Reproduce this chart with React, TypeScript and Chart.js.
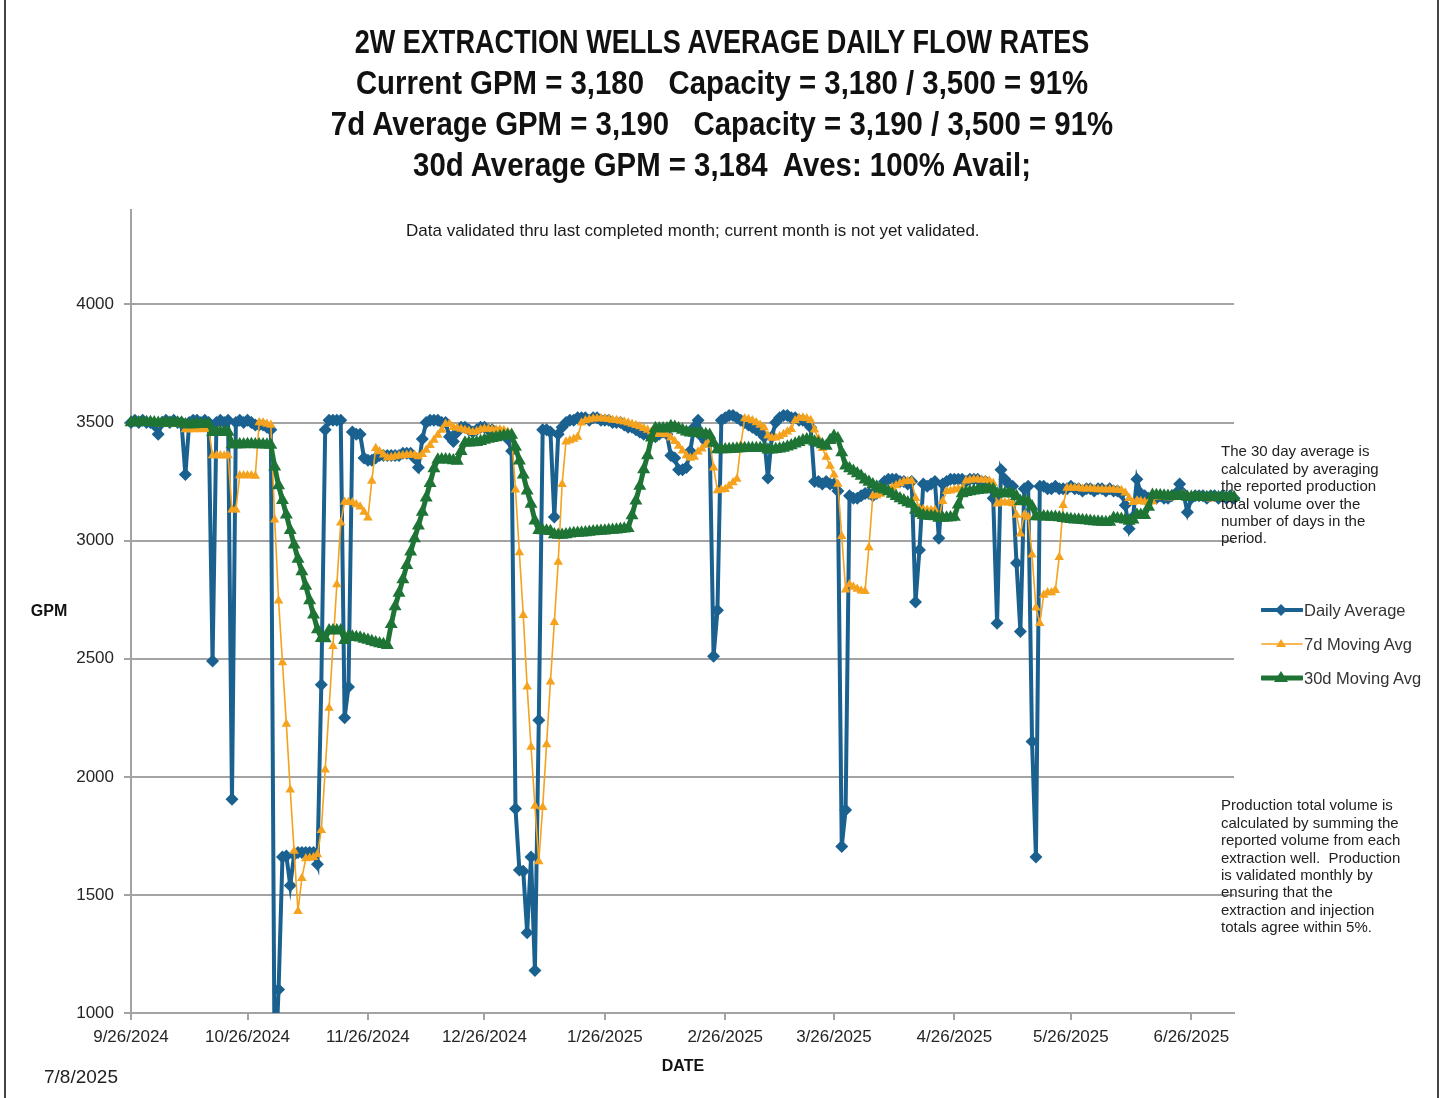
import React, { useEffect, useRef } from 'react';
import { Chart, registerables } from 'chart.js';

Chart.register(...registerables);

// ---------- data ----------
const START_DATE = '9/26/2024';
const END_DATE = '7/7/2025';
const X_TICK_LABELS = [
  '9/26/2024', '10/26/2024', '11/26/2024', '12/26/2024', '1/26/2025',
  '2/26/2025', '3/26/2025', '4/26/2025', '5/26/2025', '6/26/2025',
];
const Y_TICKS = [1000, 1500, 2000, 2500, 3000, 3500, 4000];
const Y_MIN = 1000;
const Y_MAX = 4400;

const DAILY_AVERAGE = [
  3500, 3510, 3500, 3510, 3500, 3500, 3490, 3450, 3500, 3510,
  3500, 3510, 3500, 3500, 3280, 3500, 3510, 3510, 3500, 3510,
  3500, 2490, 3500, 3510, 3500, 3510, 1905, 3500, 3510, 3500,
  3510, 3500, 3490, 3490, 3490, 3480, 3470, 700, 1100, 1660,
  1665, 1540, 1670, 1680, 1680, 1680, 1680, 1680, 1630, 2390,
  3470, 3510, 3510, 3510, 3510, 2250, 2380, 3460, 3450, 3450,
  3350, 3340, 3340, 3350, 3360, 3360, 3360, 3360, 3360, 3360,
  3370, 3370, 3370, 3350, 3310, 3430, 3500, 3510, 3510, 3510,
  3500, 3500, 3440, 3420, 3460, 3480, 3480, 3470, 3460, 3470,
  3480, 3480, 3470, 3470, 3460, 3460, 3450, 3430, 3380, 1865,
  1605, 1600, 1340, 1660, 1180, 2240, 3470, 3470, 3460, 3100,
  3450, 3480, 3500, 3510, 3510, 3520, 3520, 3520, 3510, 3520,
  3520, 3510, 3510, 3510, 3500, 3500, 3500, 3490, 3480, 3480,
  3470, 3460, 3450, 3450, 3440, 3440, 3450, 3460, 3450, 3360,
  3350, 3300, 3300, 3310, 3380, 3480, 3510, 3440, 3420, 3420,
  2510, 2705, 3510, 3520, 3530, 3530, 3520, 3510, 3500, 3490,
  3480, 3470, 3460, 3440, 3265, 3440, 3500, 3520, 3530, 3530,
  3520, 3520, 3510, 3510, 3500, 3480, 3250, 3250, 3240, 3250,
  3240, 3240, 3210, 1705, 1860, 3190, 3180, 3180, 3190, 3200,
  3200, 3190, 3200, 3220, 3250, 3260, 3260, 3260, 3250, 3250,
  3240, 3250, 2740, 2960, 3240, 3230, 3240, 3250, 3010, 3240,
  3250, 3260, 3260, 3260, 3260, 3250, 3260, 3260, 3260, 3250,
  3250, 3240, 3180, 2650, 3300, 3260, 3240, 3230, 2905, 2615,
  3220, 3230, 2150, 1660, 3230, 3230, 3220, 3220, 3230, 3220,
  3220, 3220, 3230, 3220, 3220, 3210, 3220, 3220, 3210, 3220,
  3220, 3210, 3220, 3210, 3210, 3200, 3150, 3050, 3100, 3260,
  3200, 3190, 3180, 3180, 3180, 3190, 3180, 3180, 3190, 3200,
  3240, 3200, 3120, 3180, 3190, 3190, 3190, 3180, 3190, 3190,
  3180, 3190, 3180, 3190, 3180,
];

const MOVING_AVG_7D = [
  3500, 3501, 3501, 3503, 3503, 3503, 3501, 3494, 3493, 3494,
  3493, 3494, 3494, 3496, 3471, 3471, 3471, 3473, 3471, 3473,
  3473, 3360, 3360, 3360, 3359, 3360, 3131, 3131, 3276, 3276,
  3276, 3276, 3274, 3500, 3499, 3494, 3490, 3089, 2746, 2484,
  2224, 1945, 1686, 1431, 1571, 1654, 1656, 1659, 1671, 1774,
  2030, 2291, 2553, 2814, 3076, 3164, 3163, 3161, 3153, 3144,
  3121, 3097, 3253, 3391, 3377, 3364, 3351, 3353, 3356, 3359,
  3361, 3363, 3364, 3363, 3356, 3366, 3384, 3404, 3426, 3447,
  3469, 3494, 3494, 3480, 3477, 3473, 3469, 3464, 3459, 3463,
  3471, 3474, 3473, 3471, 3470, 3470, 3467, 3460, 3446, 3216,
  2950, 2684, 2381, 2126, 1876, 1641, 1871, 2137, 2403, 2654,
  2910, 3239, 3419, 3424, 3430, 3439, 3499, 3509, 3513, 3516,
  3517, 3517, 3516, 3514, 3511, 3510, 3507, 3503, 3499, 3494,
  3489, 3483, 3476, 3469, 3461, 3456, 3451, 3450, 3449, 3436,
  3421, 3401, 3381, 3361, 3350, 3354, 3376, 3389, 3406, 3423,
  3309, 3212, 3216, 3218, 3231, 3246, 3261, 3404, 3517, 3514,
  3509, 3500, 3490, 3479, 3444, 3435, 3436, 3442, 3451, 3461,
  3472, 3509, 3519, 3520, 3517, 3510, 3470, 3431, 3391, 3354,
  3316, 3279, 3240, 3019, 2792, 2814, 2804, 2795, 2788, 2786,
  2971, 3190, 3191, 3197, 3207, 3217, 3226, 3234, 3243, 3250,
  3253, 3253, 3179, 3136, 3133, 3130, 3129, 3130, 3096, 3167,
  3209, 3211, 3216, 3219, 3220, 3254, 3257, 3259, 3259, 3257,
  3256, 3254, 3243, 3156, 3161, 3161, 3160, 3157, 3109, 3029,
  3110, 3100, 2940, 2716, 2650, 2770, 2780, 2780, 2790, 2930,
  3150, 3223, 3223, 3223, 3223, 3220, 3220, 3220, 3219, 3217,
  3217, 3216, 3217, 3216, 3214, 3213, 3203, 3179, 3163, 3169,
  3167, 3164, 3161, 3166, 3184, 3197, 3186, 3183, 3183, 3186,
  3194, 3197, 3187, 3187, 3189, 3189, 3187, 3179, 3177, 3187,
  3187, 3187, 3186, 3186, 3190,
];

const MOVING_AVG_30D = [
  3500, 3500, 3500, 3501, 3501, 3501, 3500, 3498, 3498, 3499,
  3499, 3499, 3499, 3499, 3492, 3492, 3492, 3493, 3493, 3493,
  3493, 3459, 3459, 3460, 3460, 3460, 3407, 3407, 3407, 3407,
  3408, 3408, 3407, 3407, 3407, 3406, 3405, 3313, 3233, 3171,
  3110, 3044, 2983, 2922, 2869, 2808, 2747, 2686, 2624, 2587,
  2586, 2620, 2620, 2620, 2620, 2578, 2594, 2593, 2591, 2589,
  2584, 2579, 2574, 2569, 2565, 2561, 2557, 2646, 2721, 2778,
  2835, 2896, 2953, 3009, 3063, 3121, 3182, 3243, 3306, 3343,
  3344, 3344, 3342, 3339, 3337, 3378, 3415, 3415, 3416, 3417,
  3421, 3426, 3430, 3434, 3437, 3441, 3444, 3446, 3447, 3397,
  3338, 3279, 3211, 3155, 3084, 3044, 3043, 3042, 3040, 3026,
  3024, 3024, 3026, 3029, 3031, 3032, 3033, 3035, 3037, 3039,
  3040, 3041, 3042, 3044, 3045, 3046, 3048, 3050, 3053, 3107,
  3169, 3231, 3301, 3361, 3436, 3476, 3475, 3475, 3475, 3484,
  3481, 3475, 3468, 3461, 3457, 3456, 3456, 3453, 3450, 3447,
  3413, 3386, 3386, 3386, 3387, 3388, 3389, 3390, 3391, 3391,
  3391, 3391, 3391, 3391, 3385, 3385, 3387, 3389, 3392, 3398,
  3403, 3410, 3417, 3424, 3428, 3428, 3419, 3413, 3407, 3401,
  3425, 3443, 3433, 3373, 3317, 3306, 3295, 3284, 3274, 3258,
  3248, 3238, 3228, 3220, 3216, 3208, 3198, 3188, 3178, 3170,
  3162, 3155, 3130, 3115, 3108, 3104, 3103, 3102, 3096, 3096,
  3097, 3098, 3100, 3152, 3200, 3205, 3208, 3211, 3213, 3215,
  3217, 3219, 3218, 3199, 3201, 3201, 3200, 3199, 3188, 3167,
  3166, 3165, 3145, 3102, 3102, 3102, 3101, 3100, 3100, 3098,
  3095, 3093, 3091, 3089, 3088, 3086, 3085, 3083, 3081, 3080,
  3079, 3078, 3079, 3096, 3094, 3092, 3089, 3083, 3089, 3110,
  3109, 3108, 3142, 3193, 3192, 3191, 3190, 3189, 3188, 3188,
  3189, 3188, 3185, 3185, 3185, 3184, 3184, 3184, 3184, 3184,
  3184, 3184, 3184, 3184, 3184,
];

const SERIES_NAMES = ['Daily Average', '7d Moving Avg', '30d Moving Avg'];

const TITLE_LINES = [
  '2W EXTRACTION WELLS AVERAGE DAILY FLOW RATES',
  'Current GPM = 3,180   Capacity = 3,180 / 3,500 = 91%',
  '7d Average GPM = 3,190   Capacity = 3,190 / 3,500 = 91%',
  '30d Average GPM = 3,184  Aves: 100% Avail;',
];
const NOTE_VALIDATED = 'Data validated thru last completed month; current month is not yet validated.';
const NOTE_30D = [
  'The 30 day average is',
  'calculated by averaging',
  'the reported production',
  'total volume over the',
  'number of days in the',
  'period.',
];
const NOTE_PRODUCTION = [
  'Production total volume is',
  'calculated by summing the',
  'reported volume from each',
  'extraction well.  Production',
  'is validated monthly by',
  'ensuring that the',
  'extraction and injection',
  'totals agree within 5%.',
];
const Y_TITLE = 'GPM';
const X_TITLE = 'DATE';
const REPORT_DATE = '7/8/2025';

// ---------- styles ----------
const BLUE = '#1B6190';
const ORANGE = '#F5A21E';
const GREEN = '#1E7434';
const GRID = '#A3A3A3';
const FONT = "'Liberation Sans', Arial, Helvetica, sans-serif";
const TITLE_SCALE = [0.82, 0.89, 0.89, 0.89];

function dayOffset(s: string): number {
  const [m, d, y] = s.split('/').map(Number);
  const [m0, d0, y0] = START_DATE.split('/').map(Number);
  return Math.round((Date.UTC(y, m - 1, d) - Date.UTC(y0, m0 - 1, d0)) / 86400000);
}

const toPoints = (arr: number[]) => arr.map((v, i) => ({ x: i, y: v }));

function Swatch({ color, width, shape }: { color: string; width: number; shape: 'diamond' | 'tri' | 'bigtri' }) {
  let marker: React.ReactNode = null;
  if (shape === 'diamond') marker = <polygon points="20,4 26,10 20,16 14,10" fill={color} />;
  if (shape === 'tri') marker = <polygon points="20,5 25,13 15,13" fill={color} />;
  if (shape === 'bigtri') marker = <polygon points="20,3 27,14 13,14" fill={color} />;
  return (
    <svg width={42} height={20} style={{ position: 'absolute', left: 1261, top: -10 }}>
      <line x1={1} y1={10} x2={41} y2={10} stroke={color} strokeWidth={width} strokeLinecap="round" />
      {marker}
    </svg>
  );
}

export default function App() {
  const canvasRef = useRef<HTMLCanvasElement | null>(null);

  useEffect(() => {
    const canvas = canvasRef.current;
    if (!canvas) return;
    const tickDays = X_TICK_LABELS.map(dayOffset);
    const xMax = dayOffset(END_DATE);
    const clip = { left: 12, right: 12, top: 12, bottom: 0 };

    const chart = new Chart(canvas, {
      type: 'line',
      data: {
        datasets: [
          {
            label: SERIES_NAMES[2],
            data: toPoints(MOVING_AVG_30D),
            borderColor: GREEN,
            backgroundColor: GREEN,
            borderWidth: 5,
            pointStyle: 'triangle',
            pointRadius: 7.5,
            pointBorderWidth: 0,
            pointBackgroundColor: GREEN,
            order: 1,
            clip,
          },
          {
            label: SERIES_NAMES[1],
            data: toPoints(MOVING_AVG_7D),
            borderColor: ORANGE,
            backgroundColor: ORANGE,
            borderWidth: 1.6,
            pointStyle: 'triangle',
            pointRadius: 5.5,
            pointBorderWidth: 0,
            pointBackgroundColor: ORANGE,
            order: 2,
            clip,
          },
          {
            label: SERIES_NAMES[0],
            data: toPoints(DAILY_AVERAGE),
            borderColor: BLUE,
            backgroundColor: BLUE,
            borderWidth: 4,
            pointStyle: 'rectRot',
            pointRadius: 6.5,
            pointBorderWidth: 0,
            pointBackgroundColor: BLUE,
            order: 3,
            clip,
          },
        ],
      },
      options: {
        responsive: false,
        animation: false,
        devicePixelRatio: 1,
        events: [],
        layout: { padding: { left: 0, right: 210, top: 210, bottom: 45 } },
        elements: { line: { tension: 0 } },
        plugins: {
          legend: { display: false },
          tooltip: { enabled: false },
          title: { display: false },
        },
        scales: {
          x: {
            type: 'linear',
            min: 0,
            max: xMax,
            afterBuildTicks: (scale: any) => {
              scale.ticks = tickDays.map((v) => ({ value: v }));
            },
            afterFit: (scale: any) => {
              scale.height = 40;
            },
            ticks: {
              autoSkip: false,
              maxRotation: 0,
              minRotation: 0,
              padding: 7,
              color: '#262626',
              font: { family: FONT, size: 17 },
              callback: (_v: any, i: number) => X_TICK_LABELS[i],
            },
            grid: { drawOnChartArea: false, drawTicks: true, tickLength: 7, color: GRID, lineWidth: 2 },
            border: { display: true, color: GRID, width: 2 },
          },
          y: {
            type: 'linear',
            min: Y_MIN,
            max: Y_MAX,
            afterBuildTicks: (scale: any) => {
              scale.ticks = Y_TICKS.map((v) => ({ value: v }));
            },
            afterFit: (scale: any) => {
              scale.width = 131;
            },
            ticks: {
              padding: 10,
              color: '#262626',
              font: { family: FONT, size: 17 },
              callback: (v: any) => String(v),
            },
            grid: { drawTicks: true, tickLength: 7, color: GRID, lineWidth: 2 },
            border: { display: true, color: GRID, width: 2 },
          },
        },
      },
    } as any);

    return () => chart.destroy();
  }, []);

  const abs = (extra: React.CSSProperties): React.CSSProperties => ({ position: 'absolute', ...extra });

  return (
    <div
      style={{
        position: 'absolute',
        left: 0,
        top: 0,
        width: 1444,
        height: 1098,
        background: '#ffffff',
        overflow: 'hidden',
        fontFamily: FONT,
        color: '#111',
      }}
    >
      <canvas ref={canvasRef} width={1444} height={1098} style={abs({ left: 0, top: 0, width: 1444, height: 1098 })} />

      {/* frame */}
      <div style={abs({ left: 4, top: 0, width: 2, height: 1098, background: '#444' })} />
      <div style={abs({ left: 1437, top: 0, width: 2, height: 1098, background: '#444' })} />

      {/* title */}
      {TITLE_LINES.map((t, i) => (
        <div
          key={i}
          style={abs({
            left: 0,
            top: 42 + i * 41 - 20,
            width: 1444,
            height: 40,
            lineHeight: '40px',
            textAlign: 'center',
            fontSize: 33,
            fontWeight: 'bold',
            whiteSpace: 'pre',
            color: '#111',
            transform: `scaleX(${TITLE_SCALE[i]})`,
            transformOrigin: '722px 50%',
          })}
        >
          {t}
        </div>
      ))}

      {/* validated note */}
      <div style={abs({ left: 406, top: 231 - 10, height: 20, lineHeight: '20px', fontSize: 17, whiteSpace: 'pre', color: '#1a1a1a' })}>
        {NOTE_VALIDATED}
      </div>

      {/* right notes */}
      <div style={abs({ left: 1221, top: 451 - 8.7, fontSize: 15, lineHeight: '17.4px', color: '#222', whiteSpace: 'pre' })}>
        {NOTE_30D.map((l, i) => (
          <div key={i}>{l}</div>
        ))}
      </div>
      <div style={abs({ left: 1221, top: 805 - 8.7, fontSize: 15, lineHeight: '17.4px', color: '#222', whiteSpace: 'pre' })}>
        {NOTE_PRODUCTION.map((l, i) => (
          <div key={i}>{l}</div>
        ))}
      </div>

      {/* legend */}
      {SERIES_NAMES.map((name, i) => {
        const cy = 610 + i * 34;
        const sw =
          i === 0 ? (
            <Swatch color={BLUE} width={4} shape="diamond" />
          ) : i === 1 ? (
            <Swatch color={ORANGE} width={1.6} shape="tri" />
          ) : (
            <Swatch color={GREEN} width={5} shape="bigtri" />
          );
        return (
          <div key={name} style={abs({ left: 0, top: cy, width: 1444, height: 0 })}>
            {sw}
            <div style={abs({ left: 1304, top: -11, height: 22, lineHeight: '22px', fontSize: 16.5, color: '#333', whiteSpace: 'pre' })}>
              {name}
            </div>
          </div>
        );
      })}

      {/* axis titles */}
      <div style={abs({ left: 0, top: 611 - 10, width: 98, height: 20, lineHeight: '20px', textAlign: 'center', fontSize: 16, fontWeight: 'bold', color: '#111' })}>
        {Y_TITLE}
      </div>
      <div style={abs({ left: 583, top: 1066 - 10, width: 200, height: 20, lineHeight: '20px', textAlign: 'center', fontSize: 16, fontWeight: 'bold', color: '#111' })}>
        {X_TITLE}
      </div>
      <div style={abs({ left: 44, top: 1077 - 11, height: 22, lineHeight: '22px', fontSize: 19, color: '#222', whiteSpace: 'pre' })}>
        {REPORT_DATE}
      </div>
    </div>
  );
}
